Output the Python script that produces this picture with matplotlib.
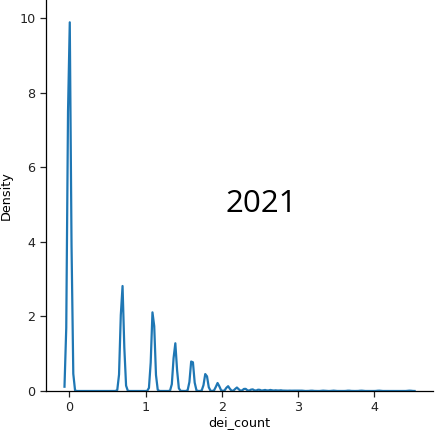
import numpy as np
import matplotlib
matplotlib.use("Agg")
import matplotlib.pyplot as plt

# Number of documents observed at each raw dei_count value
dei_count = [0, 1, 2, 3, 4, 5, 6, 7, 8, 9, 10, 11, 12, 13, 14, 15,
             16, 17, 18, 19, 20, 23, 27, 31, 38, 45, 57, 86]
documents = [1105, 311, 242, 140, 97, 53, 23, 14, 10, 7, 5, 4, 3, 3, 2, 2,
             1, 1, 1, 1, 1, 1, 1, 1, 1, 1, 1, 1]
year_label = "2021"

# Kernel density estimate of log(1 + dei_count), weighted by document counts
bandwidth = 0.021
values = np.log1p(np.asarray(dei_count, dtype=float))
weights = np.asarray(documents, dtype=float)
weights = weights / weights.sum()
grid = np.linspace(values.min() - 3 * bandwidth, values.max() + 3 * bandwidth, 200)
z = (grid[:, None] - values[None, :]) / bandwidth
density = (weights[None, :] * np.exp(-0.5 * z ** 2)).sum(axis=1) / (bandwidth * np.sqrt(2 * np.pi))

fig = plt.figure(figsize=(4.36, 4.30), dpi=100)
ax = fig.add_axes([0.1055, 0.0907, 0.8876, 0.9093])
ax.plot(grid, density, color="#1f77b4", linewidth=1.6)

ax.set_xlim(-0.3056, 4.77)
ax.set_ylim(0, 10.48)
ax.set_xticks([0, 1, 2, 3, 4])
ax.set_yticks([0, 2, 4, 6, 8, 10])
ax.tick_params(labelsize=9.2, length=4, width=0.9, colors="#222222")
ax.set_xlabel("dei_count", fontsize=9.2, labelpad=1)
ax.set_ylabel("Density", fontsize=9.2, labelpad=5)
for side in ("top", "right"):
    ax.spines[side].set_visible(False)
for side in ("left", "bottom"):
    ax.spines[side].set_linewidth(0.9)

fig.text(0.599, 0.5256, year_label, ha="center", va="center",
         fontsize=22.5, family=["Open Sans", "DejaVu Sans"], color="black")

fig.savefig("out.png", dpi=100)
